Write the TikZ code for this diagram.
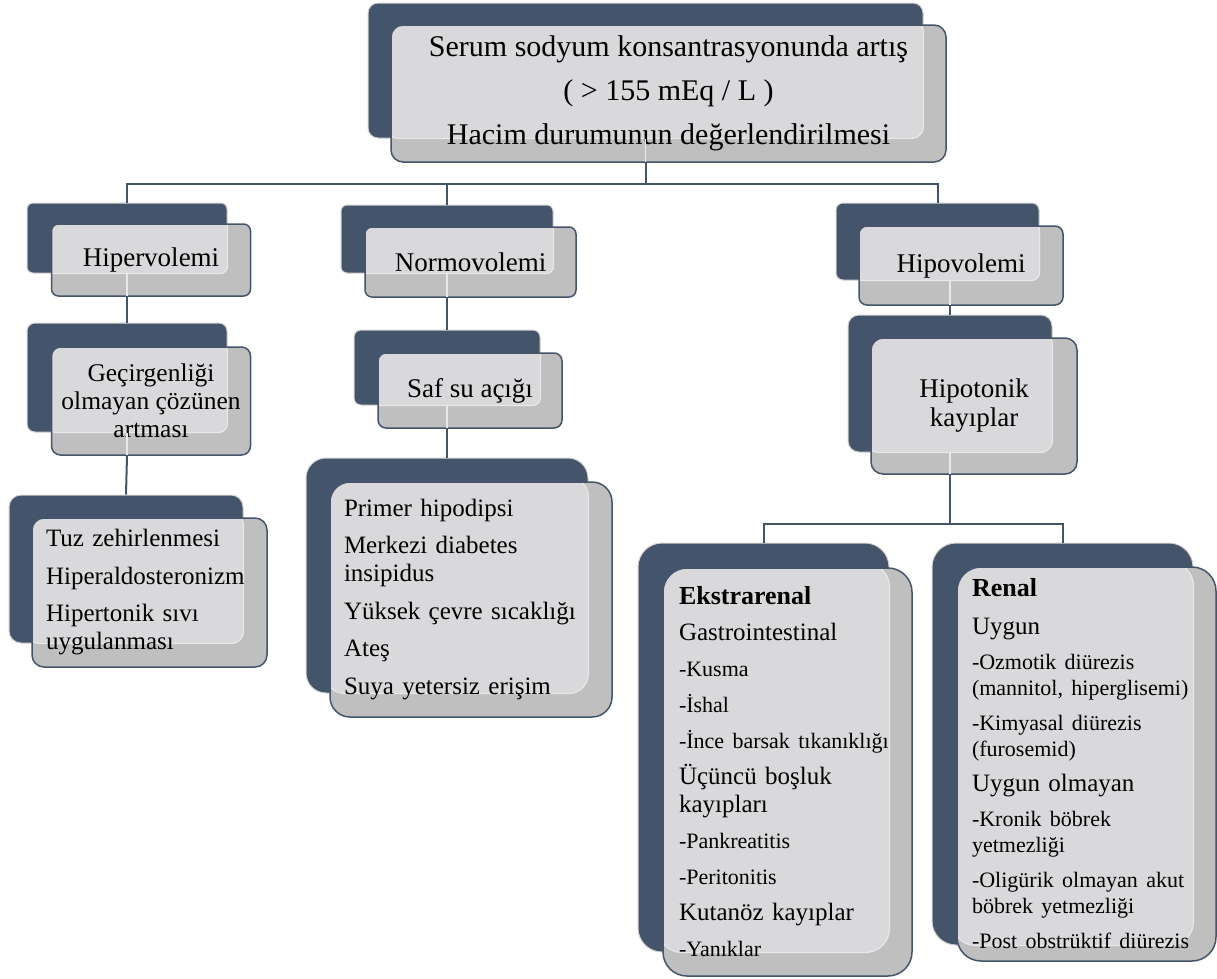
\documentclass[tikz,border=0pt]{standalone}
\usepackage{fontspec}
\setmainfont{Liberation Serif}
\usetikzlibrary{calc}

\definecolor{navy}{HTML}{44546A}
\definecolor{midgray}{HTML}{BFBFBF}
\definecolor{lite}{HTML}{D9D9DB}
\definecolor{litedge}{HTML}{E8E8EA}
\definecolor{backline}{HTML}{D2D2D2}

\newcommand{\itm}{\fontsize{22}{26}\selectfont}
\newcommand{\hd}{\fontsize{26}{30}\selectfont\bfseries}

\begin{document}
\begin{tikzpicture}[x=1pt,y=-1pt,
	back/.style={draw=backline, line width=1pt, fill=navy, inner sep=0pt},
	front/.style n args={2}{draw=navy, line width=1.5pt, fill=midgray, rounded corners=#2, inner sep=0pt, align=center,
		path picture={\filldraw[fill=lite, draw=litedge, line width=1.2pt, rounded corners=#2]
			([shift={(-5pt,5pt)}]path picture bounding box.north west) rectangle (#1.south east);}},
	head/.style={font=\fontsize{27}{29}\selectfont},
	list/.style={align=left, inner xsep=14pt, font=\fontsize{25}{37.5}\selectfont},
	conn/.style={draw=navy, line width=2pt},
	inner/.style={draw=litedge, line width=1.2pt}]

	\useasboundingbox (0,0) rectangle (1217,978);

	% Top box
	\node[back, minimum width=555pt, minimum height=135pt, rounded corners=10pt] (topBack) at (645.5,70.5) {};
	\node[front={topBack}{12pt}, minimum width=555pt, minimum height=137pt, font=\fontsize{30}{44}\selectfont] (top) at (668.5,93.5)
		{Serum sodyum konsantrasyonunda artış\\( > 155 mEq / L )\\Hacim durumunun değerlendirilmesi};

	% Hipervolemi branch
	\node[back, minimum width=200pt, minimum height=70pt, rounded corners=6pt] (hiperBack) at (127,238) {};
	\node[front={hiperBack}{7pt}, head, minimum width=199pt, minimum height=72pt] (hiper) at (151,260) {Hipervolemi};

	\node[back, minimum width=200pt, minimum height=109pt, rounded corners=8pt] (gecBack) at (127,377.5) {};
	\node[front={gecBack}{9pt}, minimum width=199pt, minimum height=108pt, font=\fontsize{25.5}{28}\selectfont] (gec) at (151,401)
		{Geçirgenliği\\olmayan çözünen\\artması};

	\node[back, minimum width=234pt, minimum height=148pt, rounded corners=12pt] (tuzBack) at (126,569) {};
	\node[front={tuzBack}{12pt}, list, text width=207pt, minimum height=149pt] (tuz) at (149.5,592.5)
		{Tuz zehirlenmesi\\Hiperaldosteronizm\\Hipertonik sıvı\\[-9.5pt]uygulanması};

	% Normovolemi branch
	\node[back, minimum width=212pt, minimum height=68pt, rounded corners=6pt] (normBack) at (447,239) {};
	\node[front={normBack}{7pt}, head, minimum width=211pt, minimum height=70pt] (norm) at (470.5,262) {Normovolemi};

	\node[back, minimum width=186pt, minimum height=75pt, rounded corners=7pt] (safBack) at (447,367.5) {};
	\node[front={safBack}{8pt}, head, minimum width=184pt, minimum height=75pt] (saf) at (470,390.5) {Saf su açığı};

	\node[back, minimum width=282pt, minimum height=235pt, rounded corners=20pt] (primBack) at (447,575.5) {};
	\node[front={primBack}{20pt}, list, text width=254pt, minimum height=235pt] (prim) at (471,599.5)
		{Primer hipodipsi\\Merkezi diabetes\\[-9.5pt]insipidus\\Yüksek çevre sıcaklığı\\Ateş\\Suya yetersiz erişim};

	% Hipovolemi branch
	\node[back, minimum width=203pt, minimum height=77pt, rounded corners=7pt] (hipoBack) at (937.5,241.5) {};
	\node[front={hipoBack}{8pt}, head, minimum width=204pt, minimum height=79pt] (hipo) at (961,265.5) {Hipovolemi};

	\node[back, minimum width=204pt, minimum height=137pt, rounded corners=11pt] (hipotBack) at (950,383.5) {};
	\node[front={hipotBack}{12pt}, head, minimum width=206pt, minimum height=136pt] (hipot) at (974,406) {Hipotonik\\kayıplar};

	\node[back, minimum width=251pt, minimum height=409pt, rounded corners=24pt] (ekstBack) at (763.5,747.5) {};
	\node[front={ekstBack}{24pt}, list, text width=217pt, inner xsep=16pt, minimum height=408pt, font=\fontsize{25}{36}\selectfont] (ekst) at (787.5,772)
		{{\hd Ekstrarenal}\\Gastrointestinal\\{\itm -Kusma}\\{\itm -İshal}\\{\itm -İnce barsak tıkanıklığı}\\
		 Üçüncü boşluk\\[-8pt]kayıpları\\{\itm -Pankreatitis}\\{\itm -Peritonitis}\\Kutanöz kayıplar\\{\itm -Yanıklar}};

	\node[back, minimum width=261pt, minimum height=402pt, rounded corners=24pt] (renalBack) at (1062.5,744) {};
	\node[front={renalBack}{24pt}, list, text width=229pt, inner xsep=15pt, minimum height=394pt, font=\fontsize{25}{35}\selectfont] (renal) at (1086.5,764)
		{{\hd Renal}\\[3pt]Uygun\\{\itm -Ozmotik diürezis}\\[-9pt]{\itm (mannitol, hiperglisemi)}\\{\itm -Kimyasal diürezis}\\[-9pt]{\itm (furosemid)}\\
		 Uygun olmayan\\{\itm -Kronik böbrek}\\[-9pt]{\itm yetmezliği}\\{\itm -Oligürik olmayan akut}\\[-9pt]{\itm böbrek yetmezliği}\\{\itm -Post obstrüktif diürezis}};

	% Light lines inside boxes
	\draw[inner] (topBack.south) -- ($(topBack |- top.south)+(0,-1)$);
	\draw[inner] (hiperBack.south) -- ($(hiperBack |- hiper.south)+(0,-1)$);
	\draw[inner] (gecBack.south) -- ($(gecBack |- gec.south)+(0,-1)$);
	\draw[inner] (normBack.south) -- ($(normBack |- norm.south)+(0,-1)$);
	\draw[inner] (safBack.south) -- ($(safBack |- saf.south)+(0,-1)$);
	\draw[inner] (hipotBack |- hipoBack.south) -- ($(hipotBack |- hipo.south)+(0,-1)$);
	\draw[inner] (hipotBack.south) -- ($(hipotBack |- hipot.south)+(0,-1)$);

	% Connectors
	\coordinate (bus) at ($(topBack |- top.south)+(0,21)$);
	\draw[conn] (topBack |- top.south) -- (bus);
	\draw[conn] (hiperBack.north) |- (bus) -| (hipoBack.north);
	\draw[conn] (normBack.north) -- (normBack.north |- bus);
	\draw[conn] (hiperBack |- hiper.south) -- (gecBack.north);
	\draw[conn] (gecBack |- gec.south) -- (tuzBack.north);
	\draw[conn] (normBack |- norm.south) -- (safBack.north);
	\draw[conn] (safBack |- saf.south) -- (primBack.north);
	\draw[conn] (hipotBack |- hipo.south) -- (hipotBack.north);
	\coordinate (bus2) at ($(hipotBack |- hipot.south)+(0,49)$);
	\draw[conn] (hipotBack |- hipot.south) -- (bus2);
	\draw[conn] (ekstBack.north) |- (bus2) -| (renalBack.north);
\end{tikzpicture}
\end{document}
